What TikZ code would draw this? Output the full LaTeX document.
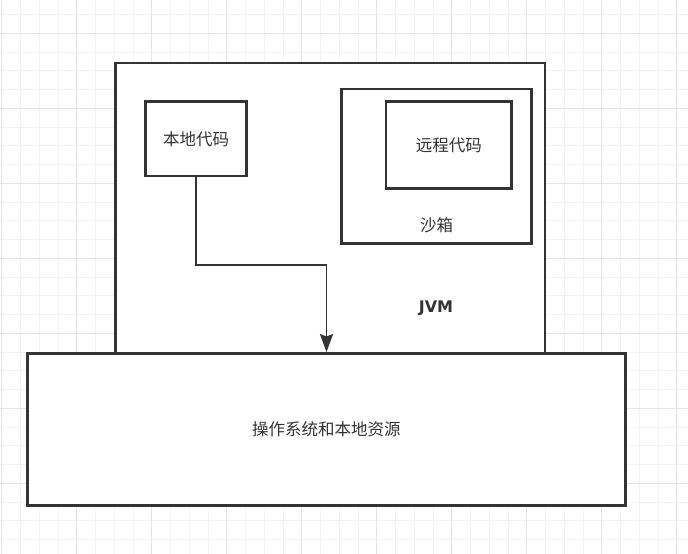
\documentclass[tikz,border=0pt]{standalone}
\usepackage{fontspec}
\newfontfamily\cjk{Noto Sans CJK SC}
\newfontfamily\latinbold{DejaVu Sans}
\usetikzlibrary{arrows.meta}
\definecolor{ink}{RGB}{51,51,51}
\definecolor{gridminor}{RGB}{243,243,243}
\definecolor{gridmajor}{RGB}{229,229,229}
\tikzset{
  box/.style={draw=ink, line width=2.5pt, fill=white, inner sep=0pt, anchor=center},
  cjklabel/.style={text=ink, font=\cjk\fontsize{16.5}{17}\selectfont, inner sep=0pt},
  conn/.style={draw=ink, line width=1.9pt, -{Stealth[length=18pt, width=13pt, inset=2.5pt]}},
}
\begin{document}
\begin{tikzpicture}[x=1pt, y=-1pt]
  % canvas and background grid
  \useasboundingbox (0,0) rectangle (688,554);
  \fill[white] (0,0) rectangle (688,554);
  \foreach \k in {0,...,36} {
    \draw[gridminor, line width=1pt] ({1.8+18.75*\k},0) -- ({1.8+18.75*\k},554);
  }
  \foreach \k in {0,...,29} {
    \draw[gridminor, line width=1pt] (0,{14.6+18.75*\k}) -- (688,{14.6+18.75*\k});
  }
  \foreach \k in {0,...,9} {
    \draw[gridmajor, line width=1pt] ({1.8+75*\k},0) -- ({1.8+75*\k},554);
  }
  \foreach \k in {0,...,7} {
    \draw[gridmajor, line width=1pt] (0,{33.3+75*\k}) -- (688,{33.3+75*\k});
  }

  % JVM container
  \node[box, minimum width=429.3pt, minimum height=290.3pt] (jvm) at (330.3,207.9) {};
  \node[text=ink, font=\latinbold\bfseries\fontsize{16}{16}\selectfont, inner sep=0pt] (jvmlabel) at (436,308) {JVM};

  % local code
  \node[box, cjklabel, draw=ink, fill=white, minimum width=101.3pt, minimum height=74.3pt] (local) at (196,138.8) {本地代码};

  % sandbox with remote code
  \node[box, minimum width=190pt, minimum height=154.3pt] (sandbox) at (436.7,166.2) {};
  \node[cjklabel] (sandboxlabel) at (436.5,225) {沙箱};
  \node[box, cjklabel, draw=ink, fill=white, minimum width=125.7pt, minimum height=86.6pt] (remote) at (448.8,145) {远程代码};

  % operating system and local resources
  \node[box, minimum width=598pt, minimum height=152pt] (os) at (326.3,429.3) {};
  \node[cjklabel] (oslabel) at (326.3,429.7) {操作系统和本地资源};

  % call path from local code into the OS
  \coordinate (elbow) at (326.5,265);
  \draw[conn] (local.south) |- (elbow) -- (elbow |- os.north);
\end{tikzpicture}
\end{document}
